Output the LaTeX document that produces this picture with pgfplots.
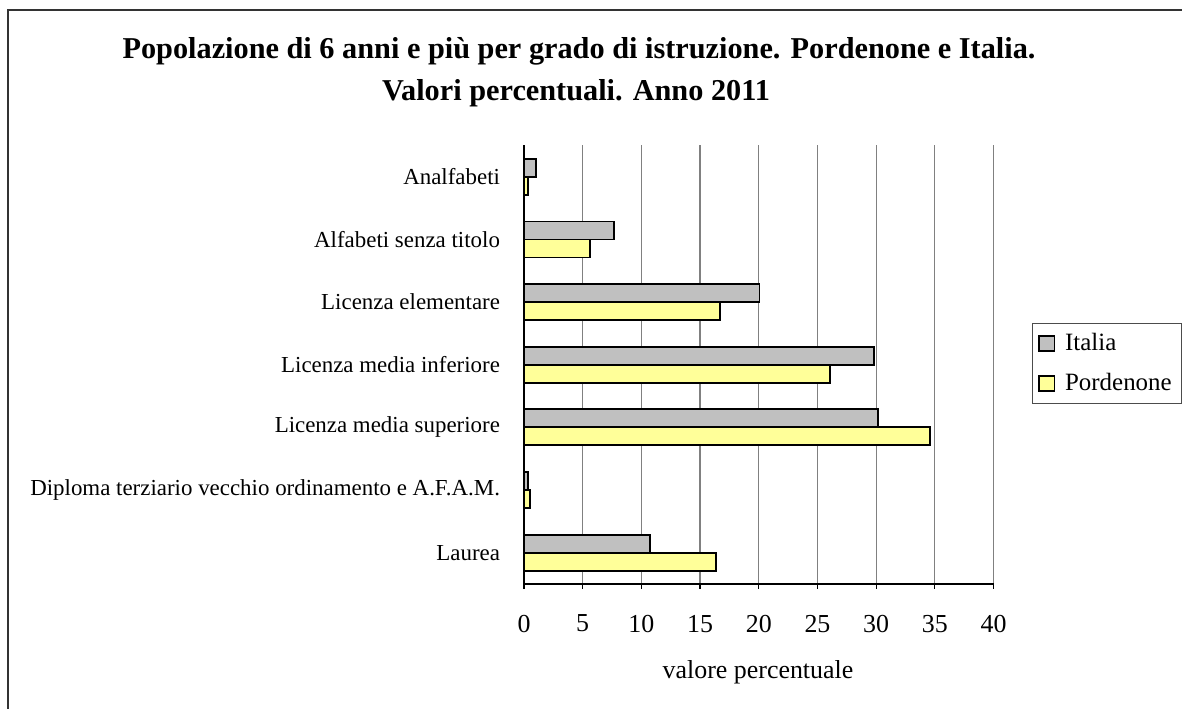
\documentclass[border=0pt]{standalone}
\usepackage{pgfplots}
\pgfplotsset{compat=1.18}
\usepackage{fontspec}
\setmainfont{Liberation Serif}
\definecolor{itagray}{HTML}{C0C0C0}
\definecolor{pnyellow}{HTML}{FFFF99}
\definecolor{gridgray}{HTML}{808080}
\begin{document}
\begin{tikzpicture}[x=0.5bp,y=0.5bp]
\useasboundingbox (0,0) rectangle (1182,708);
\draw[line width=1bp, black!80] (8,-5) -- (8,698) -- (1190,698);
\node[font=\fontsize{15.2}{18}\selectfont\bfseries, anchor=base] at (579,649) {Popolazione di 6 anni e più per grado di istruzione. Pordenone e Italia.};
\node[font=\fontsize{15.2}{18}\selectfont\bfseries, anchor=base] at (576,607) {Valori percentuali. Anno 2011};
\begin{axis}[
  at={(262bp,62bp)}, anchor=south west,
  scale only axis, width=234.75bp, height=219.25bp,
  xbar=0pt, bar width=9bp,
  xmin=0, xmax=40, ymin=-0.5, ymax=6.5,
  axis lines*=left,
  axis line style={-, black, line width=1bp},
  xtick={0,5,...,40},
  ytick={0,1,2,3,4,5,6},
  yticklabels={Laurea, Diploma terziario vecchio ordinamento e A.F.A.M., Licenza media superiore, Licenza media inferiore, Licenza elementare, Alfabeti senza titolo, Analfabeti},
  minor ytick={-0.5,0.5,...,6.5},
  tick align=outside,
  major tick length=2.5bp, minor tick length=2.5bp,
  ytick style={draw=none},
  minor tick style={draw=black, line width=0.6bp},
  xtick style={draw=black, line width=0.6bp},
  xmajorgrids, major grid style={gridgray, line width=0.6bp},
  /pgf/number format/assume math mode=true,
  xticklabel style={font=\fontsize{13}{15}\selectfont, yshift=-9.5bp},
  yticklabel style={font=\fontsize{11.5}{13}\selectfont, xshift=-6bp},
  legend style={at={(rel axis cs:1.0814,0.5959)}, anchor=north west, draw=black!70, line width=0.6bp,
    font=\fontsize{12.5}{15}\selectfont, row sep=6bp, inner xsep=3bp, inner ysep=3bp,
    /tikz/every odd column/.append style={column sep=3bp}},
  legend cell align=left,
  legend image code/.code={\draw[#1, draw=black, line width=0.8bp] (0bp,-3.8bp) rectangle (7.6bp,3.8bp);},
]
\addplot[fill=itagray, draw=black, line width=0.9bp, bar shift=4.5bp] coordinates {
  (10.73,0) (0.31,1) (30.15,2) (29.8,3) (20.07,4) (7.67,5) (1.02,6)};
\addplot[fill=pnyellow, draw=black, line width=0.9bp, bar shift=-4.5bp] coordinates {
  (16.35,0) (0.54,1) (34.6,2) (26.06,3) (16.67,4) (5.6,5) (0.31,6)};
\legend{Italia, Pordenone}
\end{axis}
\node[font=\fontsize{13}{15}\selectfont, anchor=base] at (758,30) {valore percentuale};
\end{tikzpicture}
\end{document}
